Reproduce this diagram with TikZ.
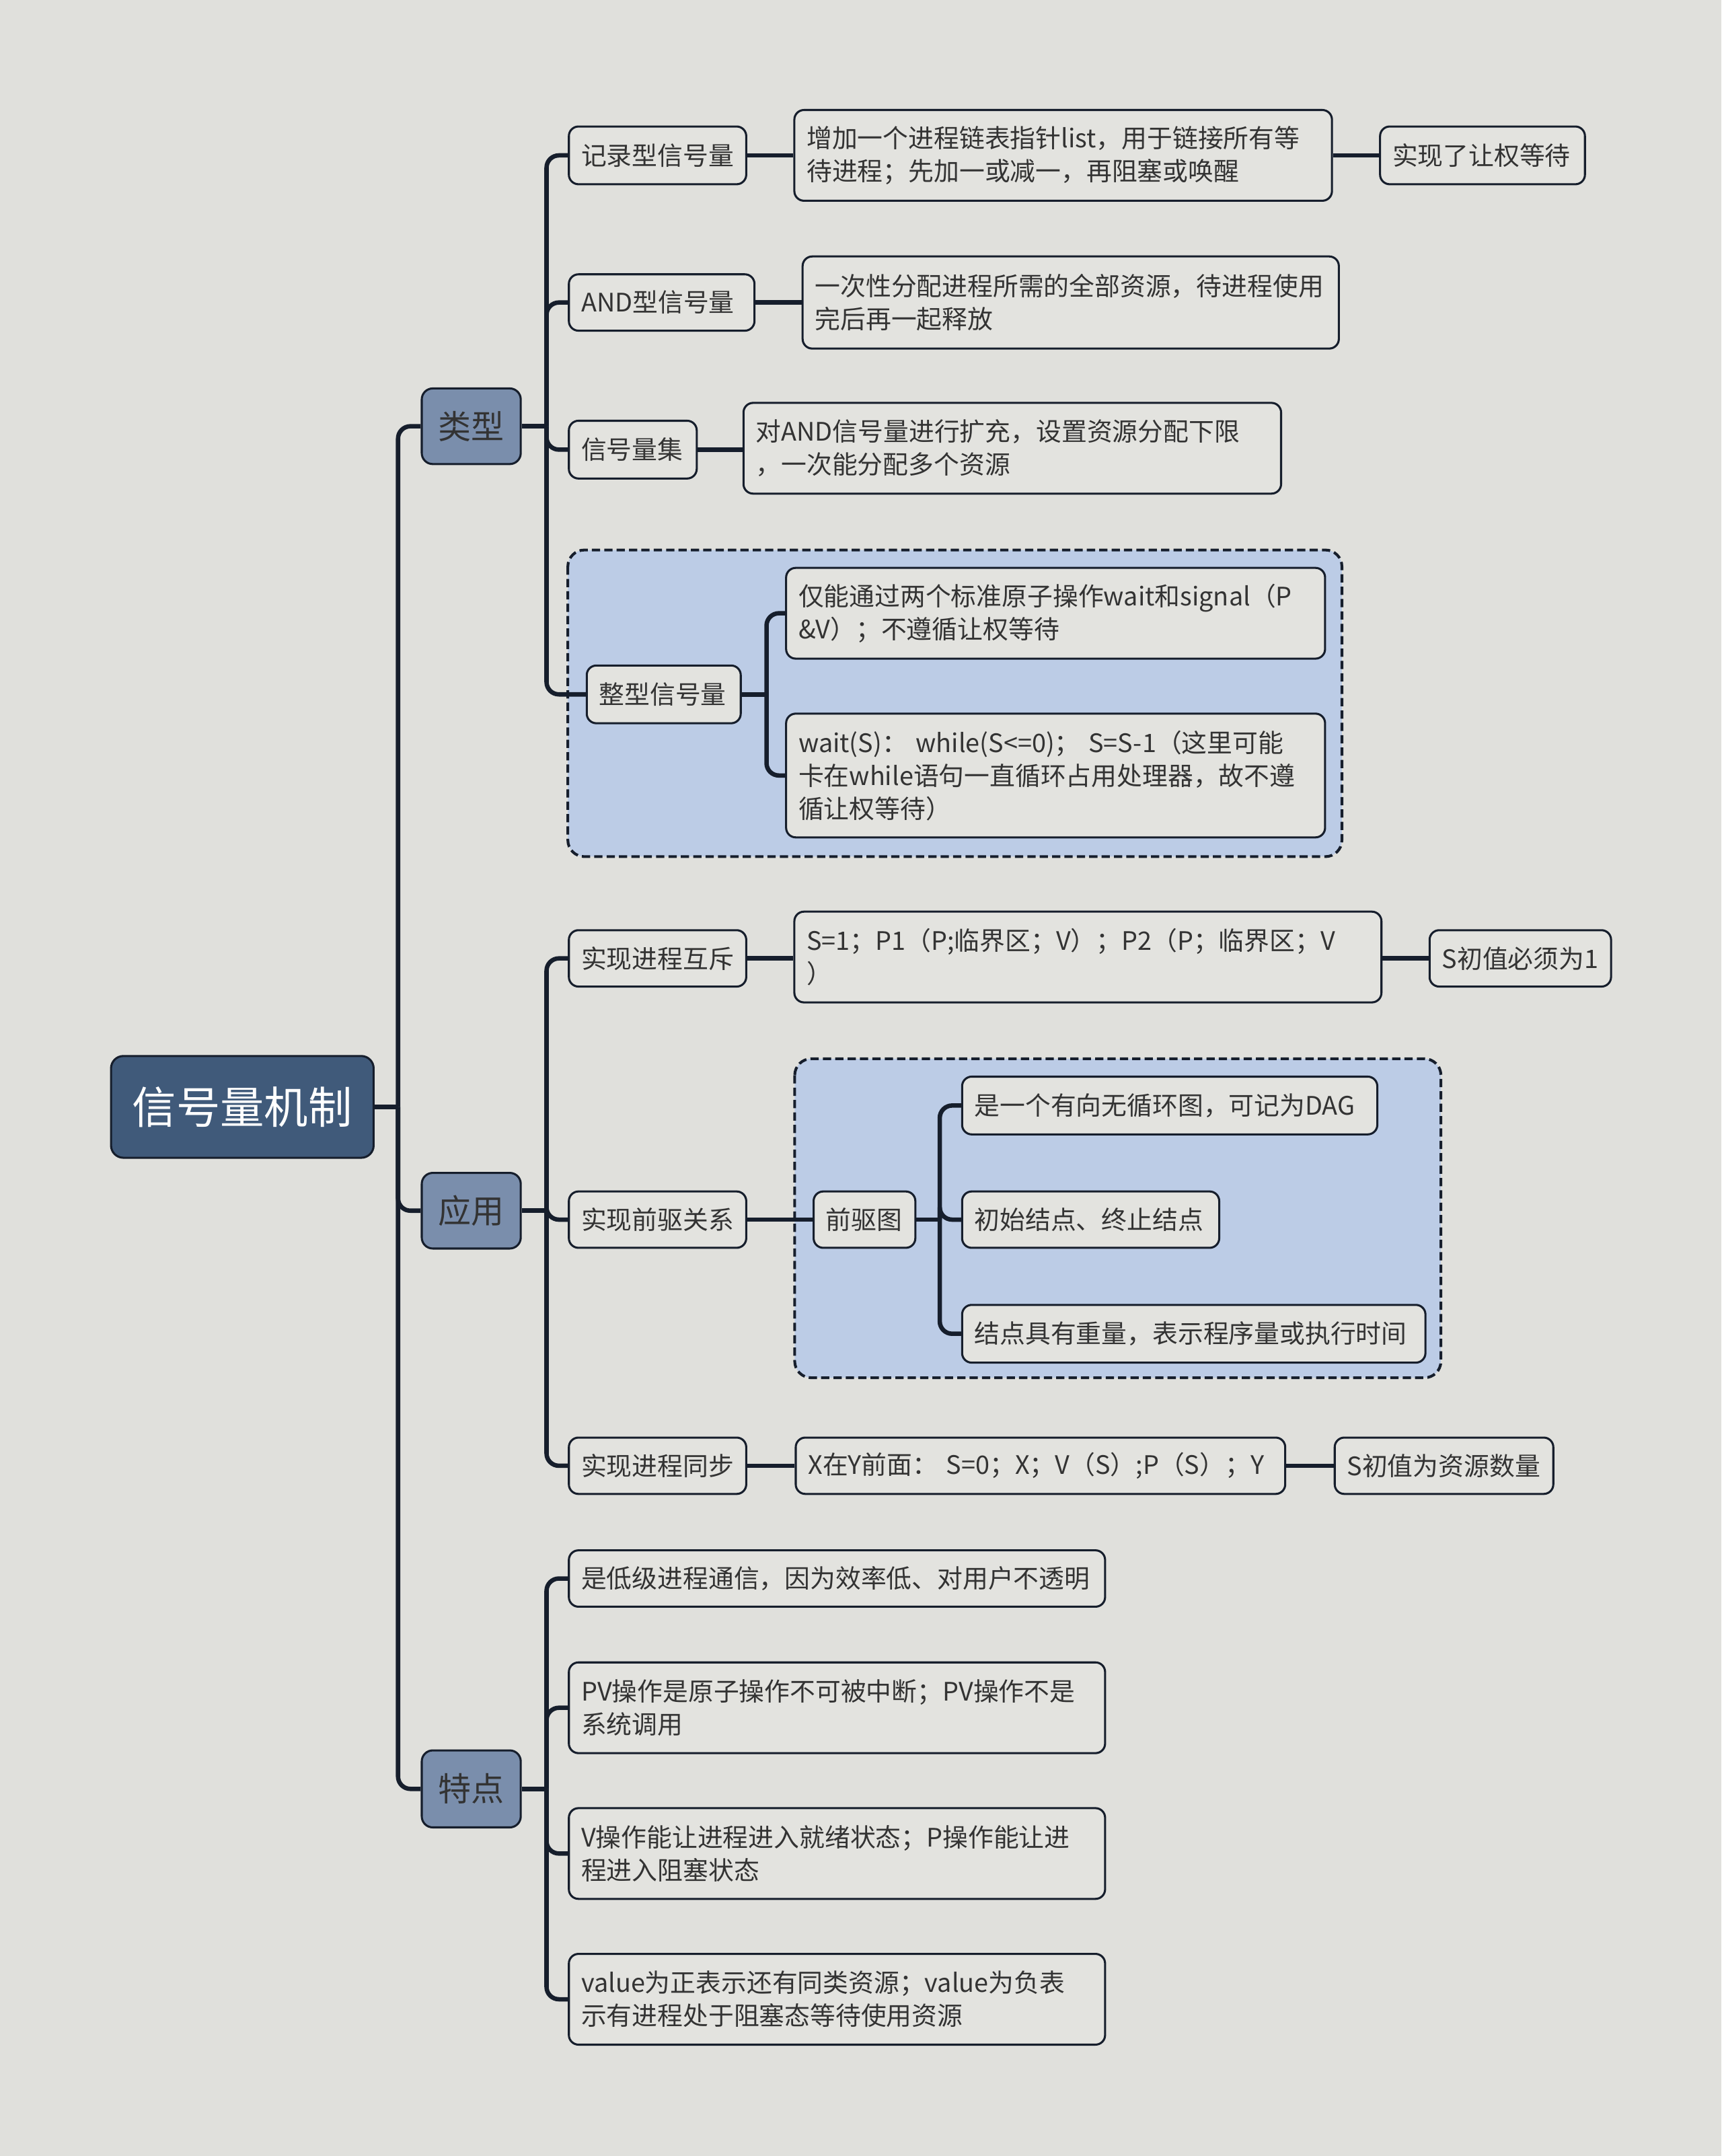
\documentclass[tikz,border=0pt]{standalone}
\usepackage{fontspec}
\setmainfont{Noto Sans CJK SC}
\newfontfamily\cjk{Noto Sans CJK SC}
\definecolor{bgC}{RGB}{224,224,220}
\definecolor{nodeC}{RGB}{227,227,223}
\definecolor{lineC}{RGB}{22,30,44}
\definecolor{rootC}{RGB}{64,90,122}
\definecolor{lvlC}{RGB}{122,142,172}
\definecolor{grpC}{RGB}{188,204,230}
\definecolor{txtC}{RGB}{51,51,51}
\newcommand\fsmall{\cjk\fontsize{18.5}{24}\selectfont}
\newcommand\flvl{\cjk\fontsize{24}{28}\selectfont}
\newcommand\froot{\cjk\fontsize{32}{36}\selectfont}
\tikzset{
  conn/.style={draw=lineC, line width=3.2pt, rounded corners=9pt},
  box/.style={draw=lineC, line width=1.5pt, fill=nodeC, rounded corners=7pt, text=txtC,
    font=\fsmall, inner xsep=9pt, inner ysep=0pt, align=left, anchor=west},
  lvl/.style={draw=lineC, line width=1.5pt, fill=lvlC, rounded corners=8pt, text=txtC,
    font=\flvl, inner sep=0pt, align=center, anchor=west, minimum width=72pt, minimum height=55pt},
  rootbox/.style={draw=lineC, line width=1.5pt, fill=rootC, rounded corners=9pt, text=white,
    font=\froot, inner sep=0pt, align=center, anchor=west, minimum width=191pt, minimum height=74pt},
  grp/.style={draw=lineC, line width=2pt, dash pattern=on 6pt off 3pt, fill=grpC, rounded corners=12pt}
}
\begin{document}
\begin{tikzpicture}[x=1pt,y=-1pt]
\useasboundingbox (0,0) rectangle (1252,1568);
\fill[bgC] (0,0) rectangle (1252,1568);
% groups
\draw[grp] (413,400) rectangle (976,623);
\draw[grp] (578,770) rectangle (1048,1002);
% root and level 1
\node[rootbox] (root) at (80,805) {信号量机制};
\node[lvl] (lx) at (306,310) {类型};
\node[lvl] (yy) at (306,880.5) {应用};
\node[lvl, minimum height=56pt] (td) at (306,1301) {特点};
% 类型 children
\node[box, text width=111pt, minimum height=42pt] (a1) at (413,113) {记录型信号量};
\node[box, text width=373pt, minimum height=66pt] (a1r) at (577,113) {增加一个进程链表指针list，用于链接所有等\\待进程；先加一或减一，再阻塞或唤醒};
\node[box, text width=131pt, minimum height=42pt] (a1rr) at (1003,113) {实现了让权等待};
\node[box, text width=117pt, minimum height=41pt] (a2) at (413,220) {AND型信号量};
\node[box, text width=372pt, minimum height=67pt] (a2r) at (583,220) {一次性分配进程所需的全部资源，待进程使用\\完后再一起释放};
\node[box, text width=75pt, minimum height=42pt] (a3) at (413,327) {信号量集};
\node[box, text width=373pt, minimum height=66pt] (a3r) at (540,326) {对AND信号量进行扩充，设置资源分配下限\\，一次能分配多个资源};
\node[box, text width=94pt, minimum height=42pt] (a4) at (426,505) {整型信号量};
\node[box, text width=374pt, minimum height=66pt] (a4r1) at (571,446) {仅能通过两个标准原子操作wait和signal（P\\\&V）；不遵循让权等待};
\node[box, text width=374pt, minimum height=90pt] (a4r2) at (571,564) {wait(S)：\ while(S<=0)；\ S=S-1（这里可能\\卡在while语句一直循环占用处理器，故不遵\\循让权等待）};
% 应用 children
\node[box, text width=111pt, minimum height=41pt] (b1) at (413,697) {实现进程互斥};
\node[box, text width=409pt, minimum height=66pt] (b1r) at (577,696) {S=1；P1（P;临界区；V）；P2（P；临界区；V\\）};
\node[box, text width=114pt, minimum height=41pt] (b1rr) at (1039,697) {S初值必须为1};
\node[box, text width=111pt, minimum height=41pt] (b2) at (413,887) {实现前驱关系};
\node[box, text width=56pt, minimum height=41pt] (b2r) at (591,887) {前驱图};
\node[box, text width=284pt, minimum height=42pt] (b2c1) at (699,804) {是一个有向无循环图，可记为DAG};
\node[box, text width=169pt, minimum height=41pt] (b2c2) at (699,887) {初始结点、终止结点};
\node[box, text width=319pt, minimum height=42pt] (b2c3) at (699,970) {结点具有重量，表示程序量或执行时间};
\node[box, text width=111pt, minimum height=41pt] (b3) at (413,1066) {实现进程同步};
\node[box, text width=338pt, minimum height=41pt] (b3r) at (578,1066) {X在Y前面：\ S=0；X；V（S）;P（S）；Y};
\node[box, text width=141pt, minimum height=41pt] (b3rr) at (970,1066) {S初值为资源数量};
% 特点 children
\node[box, text width=372pt, minimum height=41pt] (c1) at (413,1148) {是低级进程通信，因为效率低、对用户不透明};
\node[box, text width=372pt, minimum height=66pt] (c2) at (413,1242) {PV操作是原子操作不可被中断；PV操作不是\\系统调用};
\node[box, text width=372pt, minimum height=66pt] (c3) at (413,1348) {V操作能让进程进入就绪状态；P操作能让进\\程进入阻塞状态};
\node[box, text width=372pt, minimum height=66pt] (c4) at (413,1454) {value为正表示还有同类资源；value为负表\\示有进程处于阻塞态等待使用资源};
% junctions
\path (root.east) ++(17,0) coordinate (jr);
\path (lx.east) ++(18,0) coordinate (j1);
\path (yy.east) ++(18,0) coordinate (j2);
\path (td.east) ++(18,0) coordinate (j3);
\path (a4.east) ++(18,0) coordinate (j4);
\path (b2r.east) ++(17,0) coordinate (j5);
% connectors
\draw[conn] (root.east) -- (jr);
\draw[conn] (jr) |- (lx.west);
\draw[conn] (jr) |- (yy.west);
\draw[conn] (jr) |- (td.west);
\draw[conn] (lx.east) -- (j1);
\draw[conn] (j1) |- (a1.west);
\draw[conn] (j1) |- (a2.west);
\draw[conn] (j1) |- (a3.west);
\draw[conn] (j1) |- (a4.west);
\draw[conn] (a1.east) -- (a1r.west);
\draw[conn] (a1r.east) -- (a1rr.west);
\draw[conn] (a2.east) -- (a2r.west);
\draw[conn] (a3.east) -- (a3r.west |- a3.east);
\draw[conn] (a4.east) -- (j4);
\draw[conn] (j4) |- (a4r1.west);
\draw[conn] (j4) |- (a4r2.west);
\draw[conn] (yy.east) -- (j2);
\draw[conn] (j2) |- (b1.west);
\draw[conn] (j2) |- (b2.west);
\draw[conn] (j2) |- (b3.west);
\draw[conn] (b1.east) -- (b1r.west |- b1.east);
\draw[conn] (b1r.east |- b1rr.west) -- (b1rr.west);
\draw[conn] (b2.east) -- (b2r.west);
\draw[conn] (b2r.east) -- (j5);
\draw[conn] (j5) |- (b2c1.west);
\draw[conn] (j5) |- (b2c2.west);
\draw[conn] (j5) |- (b2c3.west);
\draw[conn] (b3.east) -- (b3r.west);
\draw[conn] (b3r.east) -- (b3rr.west);
\draw[conn] (td.east) -- (j3);
\draw[conn] (j3) |- (c1.west);
\draw[conn] (j3) |- (c2.west);
\draw[conn] (j3) |- (c3.west);
\draw[conn] (j3) |- (c4.west);
\end{tikzpicture}
\end{document}
